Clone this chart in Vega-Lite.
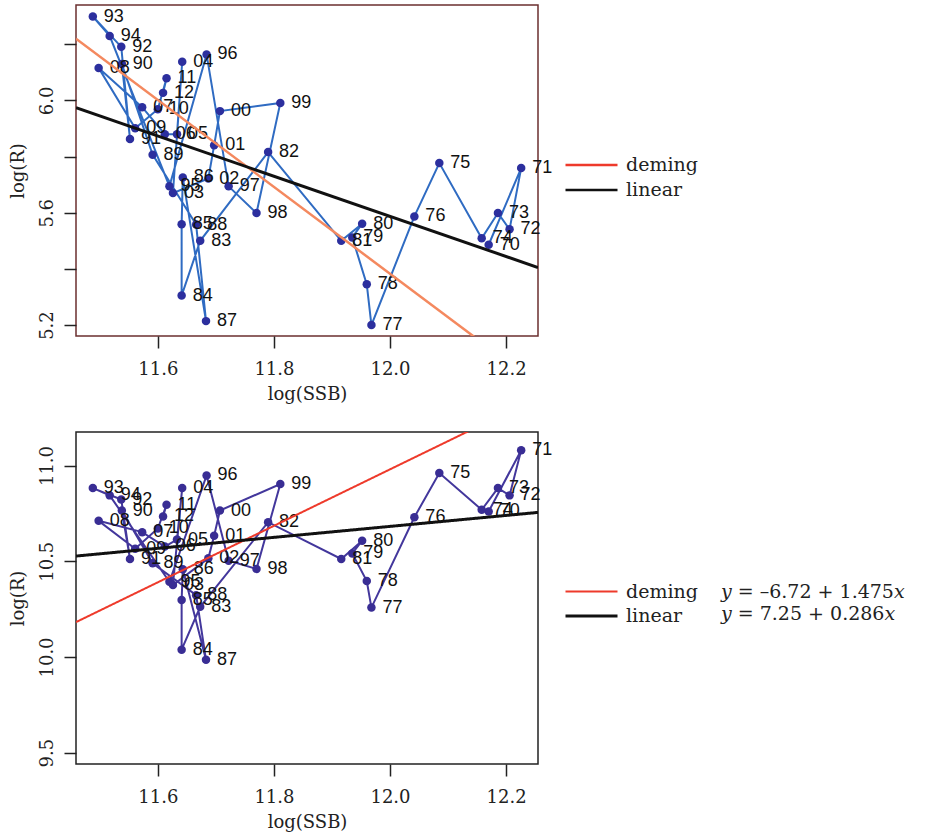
{
  "$schema": "https://vega.github.io/schema/vega-lite/v6.json",
  "autosize": {"type": "pad"},
  "padding": {"left": 8, "top": 4, "right": 0, "bottom": 0},
  "background": "white",
  "config": {
    "axis": {"domain": false, "grid": false, "tickColor": "#222222", "tickSize": 12, "tickWidth": 1.5, "labelFont": "DejaVu Serif", "labelFontSize": 18, "labelColor": "#222222", "titleFont": "DejaVu Serif", "titleFontSize": 18, "titleFontWeight": "normal", "titleColor": "#222222", "labelFlush": false, "labelOverlap": false},
    "axisX": {"labelPadding": 12, "titlePadding": 7},
    "axisY": {"labelAngle": 270, "labelAlign": "center", "labelBaseline": "bottom", "labelPadding": 8, "titlePadding": 11},
    "legend": {"padding": 0, "titlePadding": 0, "labelLimit": 400}
  },
  "datasets": {
    "pts": [
      {"yr": "70", "i": 0, "s": 12.170, "a": 5.486, "b": 10.760},
      {"yr": "71", "i": 1, "s": 12.226, "a": 5.759, "b": 11.080},
      {"yr": "72", "i": 2, "s": 12.206, "a": 5.541, "b": 10.844},
      {"yr": "73", "i": 3, "s": 12.186, "a": 5.599, "b": 10.882},
      {"yr": "74", "i": 4, "s": 12.158, "a": 5.509, "b": 10.769},
      {"yr": "75", "i": 5, "s": 12.085, "a": 5.777, "b": 10.961},
      {"yr": "76", "i": 6, "s": 12.042, "a": 5.587, "b": 10.730},
      {"yr": "77", "i": 7, "s": 11.968, "a": 5.200, "b": 10.258},
      {"yr": "78", "i": 8, "s": 11.960, "a": 5.345, "b": 10.397},
      {"yr": "79", "i": 9, "s": 11.935, "a": 5.512, "b": 10.541},
      {"yr": "80", "i": 10, "s": 11.952, "a": 5.561, "b": 10.607},
      {"yr": "81", "i": 11, "s": 11.916, "a": 5.500, "b": 10.512},
      {"yr": "82", "i": 12, "s": 11.790, "a": 5.816, "b": 10.704},
      {"yr": "83", "i": 13, "s": 11.673, "a": 5.500, "b": 10.262},
      {"yr": "84", "i": 14, "s": 11.641, "a": 5.305, "b": 10.038},
      {"yr": "85", "i": 15, "s": 11.641, "a": 5.559, "b": 10.297},
      {"yr": "86", "i": 16, "s": 11.643, "a": 5.726, "b": 10.458},
      {"yr": "87", "i": 17, "s": 11.683, "a": 5.214, "b": 9.985},
      {"yr": "88", "i": 18, "s": 11.666, "a": 5.558, "b": 10.323},
      {"yr": "89", "i": 19, "s": 11.591, "a": 5.807, "b": 10.489},
      {"yr": "90", "i": 20, "s": 11.538, "a": 6.130, "b": 10.765},
      {"yr": "91", "i": 21, "s": 11.552, "a": 5.863, "b": 10.512},
      {"yr": "92", "i": 22, "s": 11.537, "a": 6.191, "b": 10.822},
      {"yr": "93", "i": 23, "s": 11.488, "a": 6.299, "b": 10.882},
      {"yr": "94", "i": 24, "s": 11.517, "a": 6.230, "b": 10.844},
      {"yr": "95", "i": 25, "s": 11.620, "a": 5.694, "b": 10.393},
      {"yr": "96", "i": 26, "s": 11.684, "a": 6.164, "b": 10.948},
      {"yr": "97", "i": 27, "s": 11.722, "a": 5.694, "b": 10.503},
      {"yr": "98", "i": 28, "s": 11.770, "a": 5.599, "b": 10.460},
      {"yr": "99", "i": 29, "s": 11.811, "a": 5.991, "b": 10.903},
      {"yr": "00", "i": 30, "s": 11.707, "a": 5.962, "b": 10.765},
      {"yr": "01", "i": 31, "s": 11.697, "a": 5.840, "b": 10.633},
      {"yr": "02", "i": 32, "s": 11.687, "a": 5.722, "b": 10.515},
      {"yr": "03", "i": 33, "s": 11.626, "a": 5.670, "b": 10.376},
      {"yr": "04", "i": 34, "s": 11.642, "a": 6.138, "b": 10.882},
      {"yr": "05", "i": 35, "s": 11.633, "a": 5.880, "b": 10.613},
      {"yr": "06", "i": 36, "s": 11.612, "a": 5.880, "b": 10.577},
      {"yr": "07", "i": 37, "s": 11.573, "a": 5.976, "b": 10.652},
      {"yr": "08", "i": 38, "s": 11.498, "a": 6.116, "b": 10.711},
      {"yr": "09", "i": 39, "s": 11.561, "a": 5.901, "b": 10.565},
      {"yr": "10", "i": 40, "s": 11.600, "a": 5.969, "b": 10.671},
      {"yr": "11", "i": 41, "s": 11.615, "a": 6.079, "b": 10.795},
      {"yr": "12", "i": 42, "s": 11.609, "a": 6.027, "b": 10.734}
    ],
    "topdem": [
      {"s": 11.459, "a": 6.220},
      {"s": 12.255, "a": 4.988}
    ],
    "toplin": [
      {"method": "linear", "s": 11.459, "a": 5.974},
      {"method": "linear", "s": 12.255, "a": 5.405}
    ],
    "botlines": [
      {"method": "deming", "eq": "𝑦 = –6.72 + 1.475𝑥", "s": 11.459, "b": 10.182},
      {"method": "deming", "eq": "𝑦 = –6.72 + 1.475𝑥", "s": 12.255, "b": 11.356},
      {"method": "linear", "eq": "𝑦 = 7.25 + 0.286𝑥", "s": 11.459, "b": 10.527},
      {"method": "linear", "eq": "𝑦 = 7.25 + 0.286𝑥", "s": 12.255, "b": 10.755}
    ]
  },
  "spacing": 96,
  "bounds": "flush",
  "resolve": {
    "scale": {"x": "independent", "y": "independent", "stroke": "independent", "strokeDash": "independent", "strokeWidth": "independent"},
    "legend": {"stroke": "independent", "strokeDash": "independent"}
  },
  "vconcat": [
    {
      "width": 462,
      "height": 331,
      "view": {"stroke": "#6b2f2f", "strokeWidth": 1.5},
      "layer": [
        {
          "data": {"name": "pts"},
          "mark": {"type": "line", "color": "#2f6bc2", "strokeWidth": 2},
          "encoding": {
            "x": {"field": "s", "type": "quantitative", "scale": {"domain": [11.459, 12.255], "nice": false, "zero": false}, "axis": {"title": "log(SSB)", "values": [11.6, 11.8, 12.0, 12.2], "format": ".1f"}},
            "y": {"field": "a", "type": "quantitative", "scale": {"domain": [5.161, 6.34], "nice": false, "zero": false}, "axis": {"title": "log(R)", "values": [5.2, 5.4, 5.6, 5.8, 6.0, 6.2], "format": ".1f", "labelExpr": "indexof(['5.2','5.6','6.0'], datum.label) >= 0 ? datum.label : ''"}},
            "order": {"field": "i", "type": "quantitative"}
          }
        },
        {
          "data": {"name": "pts"},
          "mark": {"type": "circle", "size": 72, "color": "#2c2f9e", "opacity": 1},
          "encoding": {
            "x": {"field": "s", "type": "quantitative"},
            "y": {"field": "a", "type": "quantitative"}
          }
        },
        {
          "data": {"name": "pts"},
          "mark": {"type": "text", "align": "left", "baseline": "middle", "dx": 11, "font": "Liberation Sans", "fontSize": 18, "color": "#111111"},
          "encoding": {
            "x": {"field": "s", "type": "quantitative"},
            "y": {"field": "a", "type": "quantitative"},
            "text": {"field": "yr", "type": "nominal"}
          }
        },
        {
          "data": {"name": "topdem"},
          "mark": {"type": "line", "clip": true, "color": "#f4895f", "strokeWidth": 2.5},
          "encoding": {
            "x": {"field": "s", "type": "quantitative"},
            "y": {"field": "a", "type": "quantitative"}
          }
        },
        {
          "data": {"name": "toplin"},
          "mark": {"type": "line", "clip": true, "strokeWidth": 3},
          "encoding": {
            "x": {"field": "s", "type": "quantitative"},
            "y": {"field": "a", "type": "quantitative"},
            "stroke": {"field": "method", "type": "nominal", "scale": {"domain": ["deming", "linear"], "range": ["#ee3a2b", "#111111"]},
              "legend": {"orient": "none", "legendX": 501, "legendY": 145.5, "title": null, "symbolType": "M-2,0L2,0", "symbolSize": 676, "symbolStrokeWidth": 2.5, "labelFont": "DejaVu Serif", "labelFontSize": 19, "labelColor": "#222222", "labelOffset": 20, "rowPadding": -1, "padding": 0}}
          }
        }
      ]
    },
    {
      "width": 462,
      "height": 332,
      "view": {"stroke": "#222222", "strokeWidth": 1.5},
      "layer": [
        {
          "data": {"name": "pts"},
          "mark": {"type": "line", "color": "#43379c", "strokeWidth": 2},
          "encoding": {
            "x": {"field": "s", "type": "quantitative", "scale": {"domain": [11.459, 12.255], "nice": false, "zero": false}, "axis": {"title": "log(SSB)", "values": [11.6, 11.8, 12.0, 12.2], "format": ".1f"}},
            "y": {"field": "b", "type": "quantitative", "scale": {"domain": [9.441, 11.175], "nice": false, "zero": false}, "axis": {"title": "log(R)", "values": [9.5, 10.0, 10.5, 11.0], "format": ".1f"}},
            "order": {"field": "i", "type": "quantitative"}
          }
        },
        {
          "data": {"name": "pts"},
          "mark": {"type": "circle", "size": 72, "color": "#392d94", "opacity": 1},
          "encoding": {
            "x": {"field": "s", "type": "quantitative"},
            "y": {"field": "b", "type": "quantitative"}
          }
        },
        {
          "data": {"name": "pts"},
          "mark": {"type": "text", "align": "left", "baseline": "middle", "dx": 11, "font": "Liberation Sans", "fontSize": 18, "color": "#111111"},
          "encoding": {
            "x": {"field": "s", "type": "quantitative"},
            "y": {"field": "b", "type": "quantitative"},
            "text": {"field": "yr", "type": "nominal"}
          }
        },
        {
          "data": {"name": "botlines"},
          "mark": {"type": "line", "clip": true},
          "encoding": {
            "x": {"field": "s", "type": "quantitative"},
            "y": {"field": "b", "type": "quantitative"},
            "stroke": {"field": "method", "type": "nominal", "scale": {"domain": ["deming", "linear"], "range": ["#ee3a2b", "#111111"]},
              "legend": {"orient": "none", "legendX": 501, "legendY": 145.5, "title": null, "symbolType": "M-2,0L2,0", "symbolSize": 676, "symbolStrokeWidth": 2.5, "labelFont": "DejaVu Serif", "labelFontSize": 19, "labelColor": "#222222", "labelOffset": 20, "rowPadding": -1, "padding": 0}},
            "strokeWidth": {"field": "method", "type": "nominal", "scale": {"domain": ["deming", "linear"], "range": [2, 3]}, "legend": null},
            "strokeDash": {"field": "eq", "type": "nominal", "scale": {"domain": ["𝑦 = –6.72 + 1.475𝑥", "𝑦 = 7.25 + 0.286𝑥"], "range": [[1, 0], [1, 0]]},
              "legend": {"orient": "none", "legendX": 626, "legendY": 150, "title": null, "symbolOpacity": 0, "symbolSize": 1, "labelFont": "DejaVu Serif", "labelFontSize": 19, "labelColor": "#222222", "labelOffset": 0, "rowPadding": 2, "padding": 0}}
          }
        }
      ]
    }
  ]
}
